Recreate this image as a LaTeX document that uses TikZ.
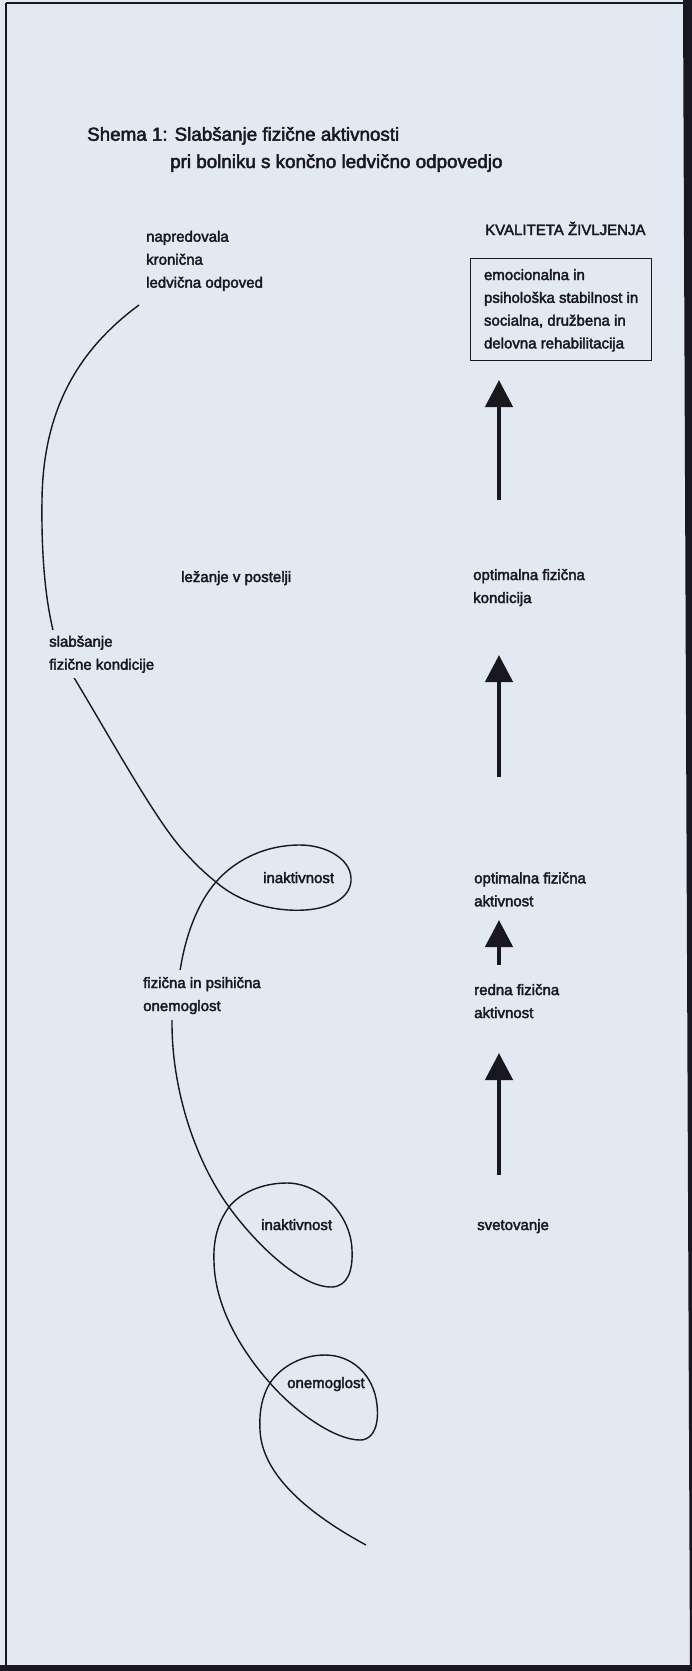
\documentclass[tikz,border=0pt]{standalone}
\usepackage{fontspec}
\setmainfont{Liberation Sans}
\newfontfamily\dtext[FakeBold=2.5]{Liberation Sans}
\usetikzlibrary{arrows.meta}
\definecolor{bg}{RGB}{226,233,243}
\definecolor{ink}{RGB}{24,24,30}
\newcommand{\mylines}[1]{\begin{tabular}[t]{@{}l@{}}#1\end{tabular}}
\begin{document}
\begin{tikzpicture}[x=1pt,y=-1pt,
  lbl/.style={anchor=base west, inner sep=0pt, text=ink, font=\dtext\fontsize{15}{23}\selectfont},
  ttl/.style={anchor=base west, inner sep=0pt, text=ink, font=\dtext\fontsize{18.8}{27.5}\selectfont},
  hide/.style={fill=bg, inner sep=2pt},
  bigarrow/.style={draw=ink, line width=4.6pt, -{Triangle[width=27pt,length=27pt]}},
  spiral/.style={draw=ink, line width=1.4pt},
]
\useasboundingbox (0,0) rectangle (692,1671);
\fill[bg] (0,0) rectangle (692,1671);
% frame
\draw[ink, line width=1.8pt] (6,3) -- (684,3);
\draw[ink, line width=1.8pt] (6,3) -- (6,1667);
\fill[ink] (683,0) -- (692,0) -- (692,1671) -- (690,1671) -- cycle;
\fill[ink] (0,1665) rectangle (692,1671);

% spiral curve
\draw[spiral] (139,305) .. controls (78,350) and (43,410) .. (42,500)
  .. controls (41,570) and (48,625) .. (62,658)
  .. controls (100,719) and (150,812) .. (181,848)
  .. controls (196,865) and (206,874) .. (216,882)
  .. controls (240,903) and (275,912) .. (305,910)
  .. controls (335,908) and (352,895) .. (351,878)
  .. controls (350,858) and (325,845) .. (300,845)
  .. controls (265,845) and (235,860) .. (216,882)
  .. controls (200,900) and (187,930) .. (181,965)
  .. controls (177,988) and (172,1005) .. (172,1023)
  .. controls (172,1090) and (195,1160) .. (229,1207)
  .. controls (255,1243) and (300,1287) .. (331,1287)
  .. controls (348,1287) and (353,1270) .. (352,1250)
  .. controls (351,1215) and (320,1183) .. (287,1183)
  .. controls (262,1183) and (240,1193) .. (229,1207)
  .. controls (218,1222) and (213,1240) .. (214,1262)
  .. controls (215,1310) and (245,1355) .. (270,1383)
  .. controls (295,1412) and (335,1440) .. (360,1440)
  .. controls (375,1440) and (379,1422) .. (377,1405)
  .. controls (374,1375) and (352,1355) .. (325,1355)
  .. controls (300,1355) and (280,1368) .. (270,1383)
  .. controls (262,1396) and (259,1412) .. (260,1430)
  .. controls (262,1480) and (320,1520) .. (366,1545);

% title
\node[ttl] (t1) at (87,140.7) {Shema 1: Slabšanje fizične aktivnosti};
\node[ttl] (t2) at (170,168) {pri bolniku s končno ledvično odpovedjo};

% left labels
\node[lbl] (start) at (146,241.7) {\mylines{napredovala\\kronična\\ledvična odpoved}};
\node[lbl] (lezanje) at (181,582) {ležanje v postelji};
\node[lbl, hide, inner sep=1pt] (slab) at (48,646.7) {\mylines{slabšanje\\fizične kondicije}};
\node[lbl] (inak1) at (263,883) {inaktivnost};
\node[lbl, hide, inner sep=2pt] (onem1) at (141,988) {\mylines{fizična in psihična\\onemoglost}};
\node[lbl] (inak2) at (261,1230) {inaktivnost};
\node[lbl] (onem2) at (287,1388) {onemoglost};

% right column
\node[lbl] (kval) at (485,235) {KVALITETA ŽIVLJENJA};
\node[draw=ink, line width=1.3pt, anchor=north west, inner sep=0pt,
      minimum width=181pt, minimum height=102pt, text=ink,
      font=\dtext\fontsize{15}{22.8}\selectfont] (qbox) at (470,258)
      {\mylines{emocionalna in\\psihološka stabilnost in\\socialna, družbena in\\delovna rehabilitacija}};
\node[lbl] (optk) at (473,580) {\mylines{optimalna fizična\\kondicija}};
\node[lbl] (opta) at (474,883.3) {\mylines{optimalna fizična\\aktivnost}};
\node[lbl] (redna) at (474,995) {\mylines{redna fizična\\aktivnost}};
\node[lbl] (svet) at (477,1230) {svetovanje};

% arrows
\coordinate (a1s) at (499,500); \coordinate (a1e) at (499,380);
\coordinate (a2s) at (499,777); \coordinate (a2e) at (499,655);
\coordinate (a3s) at (499,965); \coordinate (a3e) at (499,920);
\coordinate (a4s) at (499,1175); \coordinate (a4e) at (499,1053);
\draw[bigarrow] (a1s) -- (a1e);
\draw[bigarrow] (a2s) -- (a2e);
\draw[bigarrow] (a3s) -- (a3e);
\draw[bigarrow] (a4s) -- (a4e);
\end{tikzpicture}
\end{document}
